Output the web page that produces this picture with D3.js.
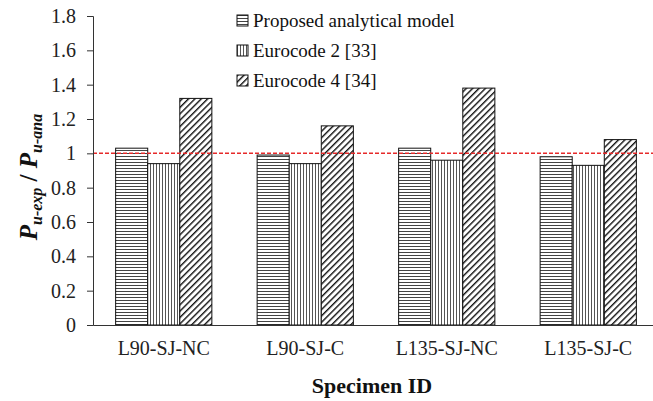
<!doctype html>
<html>
<head>
<style>
  body { margin: 0; background: #fff; }
  text { font-family: "Liberation Serif", "Times New Roman", serif; }
</style>
<script src="https://d3js.org/d3.v7.min.js"></script>
</head>
<body>
<svg width="653" height="401"></svg>
<script>
var specimens = ["L90-SJ-NC", "L90-SJ-C", "L135-SJ-NC", "L135-SJ-C"];
var seriesNames = ["Proposed analytical model", "Eurocode 2 [33]", "Eurocode 4 [34]"];
var proposed = [1.03, 0.99, 1.03, 0.98];
var eurocode2 = [0.94, 0.94, 0.96, 0.93];
var eurocode4 = [1.32, 1.16, 1.38, 1.08];
var yTicks = [0, 0.2, 0.4, 0.6, 0.8, 1, 1.2, 1.4, 1.6, 1.8];
var refLine = 1;

var svg = d3.select("svg");
var mLeft = 93, mRight = 659, mTop = 16, mBottom = 325;

var y = d3.scaleLinear().domain([0, 1.8]).range([mBottom, mTop]);
var x0 = d3.scaleBand().domain(specimens).range([mLeft, mRight])
    .paddingInner(0.32).paddingOuter(0.16);
var x1 = d3.scaleBand().domain(seriesNames).range([0, x0.bandwidth()]);

// patterns
var defs = svg.append("defs");
var pH = defs.append("pattern").attr("id", "pat0").attr("patternUnits", "userSpaceOnUse")
    .attr("width", 6).attr("height", 3);
pH.append("rect").attr("width", 6).attr("height", 3).attr("fill", "#fff");
pH.append("line").attr("x1", 0).attr("x2", 6).attr("y1", 0.5).attr("y2", 0.5)
    .attr("stroke", "#444").attr("stroke-width", 1);
var pV = defs.append("pattern").attr("id", "pat1").attr("patternUnits", "userSpaceOnUse")
    .attr("width", 3).attr("height", 6);
pV.append("rect").attr("width", 3).attr("height", 6).attr("fill", "#fff");
pV.append("line").attr("y1", 0).attr("y2", 6).attr("x1", 0.5).attr("x2", 0.5)
    .attr("stroke", "#555").attr("stroke-width", 1);
var pD = defs.append("pattern").attr("id", "pat2").attr("patternUnits", "userSpaceOnUse")
    .attr("width", 4.5).attr("height", 4.5).attr("patternTransform", "rotate(45)");
pD.append("rect").attr("width", 4.5).attr("height", 4.5).attr("fill", "#fff");
pD.append("line").attr("x1", 0.7).attr("x2", 0.7).attr("y1", 0).attr("y2", 4.5)
    .attr("stroke", "#111").attr("stroke-width", 1.4);

var seriesData = [proposed, eurocode2, eurocode4];

// bars
specimens.forEach(function(s, i) {
  seriesNames.forEach(function(n, j) {
    var v = seriesData[j][i];
    svg.append("rect")
      .attr("x", x0(s) + x1(n))
      .attr("y", y(v))
      .attr("width", x1.bandwidth())
      .attr("height", y(0) - y(v))
      .attr("fill", "url(#pat" + j + ")")
      .attr("stroke", "#111")
      .attr("stroke-width", 1);
  });
});

// reference line
svg.append("line")
  .attr("x1", mLeft).attr("x2", 653)
  .attr("y1", y(refLine)).attr("y2", y(refLine))
  .attr("stroke", "#e62a2a").attr("stroke-width", 1.5)
  .attr("stroke-dasharray", "4,2");

// y axis
var yAxis = svg.append("g").attr("transform", "translate(" + mLeft + ",0)")
  .call(d3.axisLeft(y).tickValues(yTicks).tickSize(6).tickPadding(11)
    .tickFormat(function(d) { return String(+d.toFixed(1)); }));
yAxis.selectAll("text").attr("font-size", "20px").attr("fill", "#222")
  .style("font-family", "Liberation Serif");
yAxis.selectAll("line, path").attr("stroke", "#333");

// x axis
var xAxis = svg.append("g").attr("transform", "translate(0," + mBottom + ")")
  .call(d3.axisBottom(x0).tickSize(0).tickPadding(16));
xAxis.select("path").attr("stroke", "#333");
xAxis.selectAll("text").attr("font-size", "20px").attr("fill", "#222")
  .style("font-family", "Liberation Serif");

// axis titles
svg.append("text")
  .attr("x", 372).attr("y", 393)
  .attr("text-anchor", "middle")
  .attr("font-size", "22px").attr("font-weight", "bold")
  .attr("fill", "#111")
  .text("Specimen ID");

var yt = svg.append("text")
  .attr("transform", "translate(37,177) rotate(-90)")
  .attr("text-anchor", "middle")
  .attr("fill", "#111")
  .attr("font-weight", "bold")
  .attr("font-style", "italic");
yt.append("tspan").attr("font-size", "25px").text("P");
yt.append("tspan").attr("font-size", "16px").attr("dy", 5).text("u-exp");
yt.append("tspan").attr("font-size", "25px").attr("dy", -5).attr("font-style", "normal").text(" / ");
yt.append("tspan").attr("font-size", "25px").text("P");
yt.append("tspan").attr("font-size", "16px").attr("dy", 5).text("u-ana");

// legend
var legend = svg.append("g");
seriesNames.forEach(function(n, j) {
  var ly = 20 + j * 30;
  legend.append("rect")
    .attr("x", 237).attr("y", ly - 5)
    .attr("width", 11).attr("height", 11)
    .attr("fill", "url(#pat" + j + ")")
    .attr("stroke", "#111");
  legend.append("text")
    .attr("x", 253).attr("y", ly + 7)
    .attr("font-size", "19px").attr("fill", "#111")
    .text(n);
});
</script>
</body>
</html>
